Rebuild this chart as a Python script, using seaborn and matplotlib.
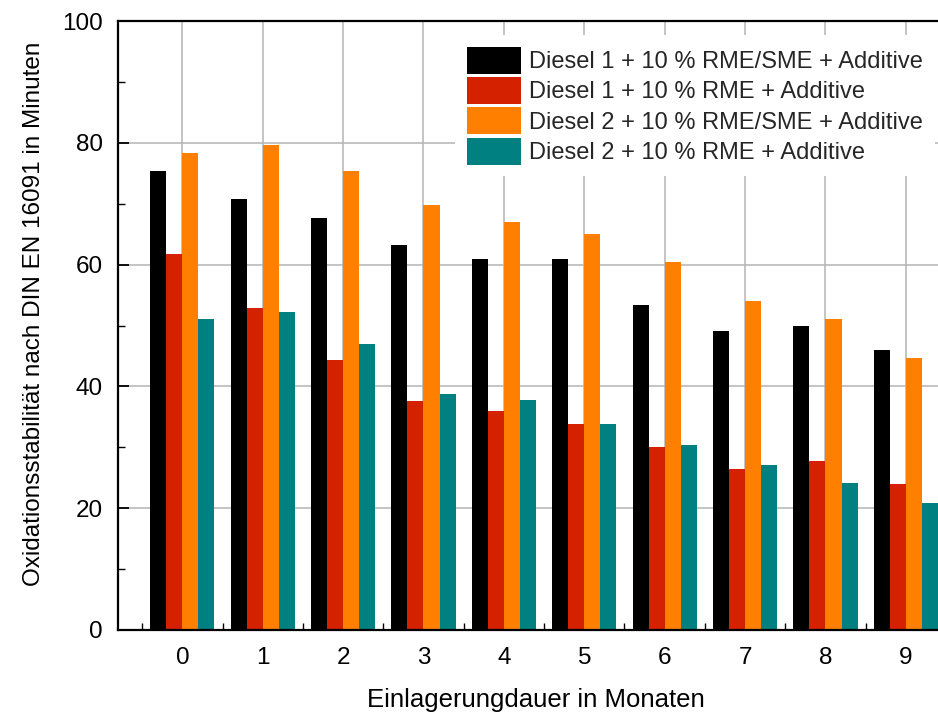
import matplotlib
matplotlib.use("Agg")
import matplotlib.pyplot as plt
import seaborn as sns
import pandas as pd
from matplotlib.ticker import MultipleLocator

months = [0, 1, 2, 3, 4, 5, 6, 7, 8, 9]
series_names = [
    "Diesel 1 + 10 % RME/SME + Additive",
    "Diesel 1 + 10 % RME + Additive",
    "Diesel 2 + 10 % RME/SME + Additive",
    "Diesel 2 + 10 % RME + Additive",
]
d1_rme_sme = [75.4, 70.7, 67.6, 63.3, 61.0, 61.0, 53.3, 49.1, 50.0, 46.0]
d1_rme = [61.7, 52.8, 44.4, 37.6, 36.0, 33.9, 30.1, 26.5, 27.8, 23.9]
d2_rme_sme = [78.4, 79.7, 75.4, 69.8, 67.0, 65.1, 60.5, 54.1, 51.0, 44.6]
d2_rme = [51.0, 52.2, 47.0, 38.8, 37.8, 33.9, 30.4, 27.1, 24.2, 20.9]
colors = ["#000000", "#D42200", "#FF8000", "#008080"]

rows = []
for name, vals in zip(series_names, [d1_rme_sme, d1_rme, d2_rme_sme, d2_rme]):
    for m, v in zip(months, vals):
        rows.append({"Monat": str(m), "Serie": name, "Wert": v})
df = pd.DataFrame(rows)

sns.set_style("white")
plt.rcParams["font.family"] = ["Liberation Sans", "DejaVu Sans"]

fig = plt.figure(figsize=(9.38, 7.15), dpi=100)
ax = fig.add_axes([118 / 938, 85 / 715, 820 / 938, 609 / 715])

sns.barplot(data=df, x="Monat", y="Wert", hue="Serie",
            order=[str(m) for m in months], hue_order=series_names,
            palette=colors, width=0.8, gap=0, linewidth=0,
            saturation=1, ax=ax, zorder=2)

ax.set_xlim(-0.8, 9.4)
ax.set_ylim(0, 100)
ax.yaxis.set_major_locator(MultipleLocator(20))
ax.yaxis.set_minor_locator(MultipleLocator(10))
ax.xaxis.set_minor_locator(MultipleLocator(0.5))

ax.grid(True, which="major", color="#b4b4b4", linewidth=1.1)
ax.set_axisbelow(True)

for side in ["left", "bottom", "top"]:
    ax.spines[side].set_visible(True)
    ax.spines[side].set_color("black")
    ax.spines[side].set_linewidth(1.6)
ax.spines["right"].set_visible(False)

ax.tick_params(axis="both", which="both", bottom=True, left=True, top=False, right=False)
ax.tick_params(axis="both", which="major", direction="in", length=8, width=1.3,
               labelsize=17.5, color="black", labelcolor="black")
ax.tick_params(axis="both", which="minor", direction="in", length=5, width=1.0,
               color="black")
ax.tick_params(axis="x", which="major", pad=12)
ax.tick_params(axis="y", which="major", pad=11)

ax.set_xlabel("Einlagerungdauer in Monaten", fontsize=18.5, labelpad=14, color="black")
ax.set_ylabel("Oxidationsstabilität nach DIN EN 16091 in Minuten", fontsize=17.5,
              labelpad=12, color="black")
ax.xaxis.label.set_x(0.51)
ax.yaxis.label.set_y(0.52)

leg = ax.legend(loc="upper right", bbox_to_anchor=(935 / 938, (715 - 35) / 715),
                bbox_transform=fig.transFigure, fontsize=17,
                frameon=True, fancybox=False, edgecolor="white", framealpha=1,
                handlelength=2.3, handleheight=1.38, labelspacing=0.14,
                handletextpad=0.35, borderpad=0.5, borderaxespad=0.0)
leg.get_frame().set_linewidth(0)

fig.savefig("out.png", dpi=100)
